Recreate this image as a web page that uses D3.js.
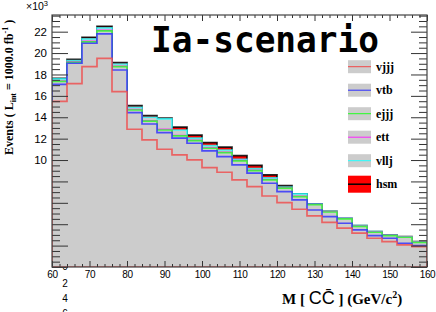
<!DOCTYPE html>
<html>
<head>
<meta charset="utf-8">
<script src="https://cdn.jsdelivr.net/npm/d3@7"></script>
<style>
  body { margin: 0; background: #fff; }
  svg { display: block; font-family: "Liberation Sans", Arial, sans-serif; }
</style>
</head>
<body>
<svg id="chart" width="436" height="312"></svg>
<script>
// bin edges of M(cc) in GeV/c^2
const edges = [60,64,68,72,76,80,84,88,92,96,100,104,108,112,116,120,124,128,132,136,140,144,148,152,156,160];

// events per bin (x10^3), one array per stacked sample
const vjjj = [15.48,17.14,18.73,19.51,16.39,12.88,11.88,11.01,10.48,10.01,9.29,8.86,8.14,7.51,6.64,6.02,5.40,4.78,4.17,3.63,3.16,2.69,2.37,2.07,1.91];
const vtb  = [1.60,1.91,2.19,2.28,2.03,1.55,1.49,1.55,1.56,1.56,1.56,1.46,1.40,1.26,1.19,1.03,0.87,0.55,0.54,0.46,0.31,0.24,0.32,0.15,0.09];
const ejjj = [0.27,0.09,0.12,0.28,0.31,0.25,0.26,0.25,0.21,0.24,0.25,0.37,0.38,0.24,0.31,0.32,0.31,0.49,0.43,0.41,0.33,0.32,0.25,0.56,0.31];
const ett  = [0.04,0.03,0.05,0.05,0.04,0.03,0.04,0.05,0.04,0.03,0.04,0.03,0.03,0.03,0.03,0.02,0.03,0.02,0.02,0.02,0.02,0.02,0.02,0.02,0.02];
const vllj = [0.19,0.13,0.23,0.23,0.21,0.22,0.33,0.99,0.52,0.20,0.21,0.22,0.12,0.16,0.16,0.08,0.22,0.04,0.03,0.03,0.04,0.03,0.03,0.03,0.03];
const hsm  = [0.06,0.12,0.16,0.15,0.12,0.15,0.15,0.06,0.26,0.28,0.28,0.26,0.34,0.31,0.28,0.13,0.02,0.02,0.01,0.01,0.01,0.01,0.01,0.01,0.01];

const sampleNames = ['vjjj','vtb','ejjj','ett','vllj','hsm'];
const sampleColors = ['#f04848','#2b2bff','#22ff22','#ff22ff','#22ffff','#000000'];

const xTickLabels = [60,70,80,90,100,110,120,130,140,150,160];
const yTickLabels = [10,12,14,16,18,20,22];
const strayLabels = [0,2,4,6];   // y labels that ended up below the x axis

const serif = '"Liberation Serif", "Times New Roman", serif';
const sans = '"Liberation Sans", Arial, sans-serif';

const svg = d3.select('#chart');

const x = d3.scaleLinear().domain([60,160]).range([52,427]);
const y = d3.scaleLinear().domain([0,23.56]).range([267,15]);

// stray labels drawn first so the plot covers the top of the "0"
svg.append('g')
    .selectAll('text')
    .data(strayLabels)
    .enter()
    .append('text')
    .attr('x', 65)
    .attr('y', (d,i)=> i ? 268.5 + 15*i : 266)
    .attr('dy', '0.35em')
    .attr('text-anchor', 'middle')
    .style('font-size', '10px')
    .text(d=>d);

// white frame background
svg.append('rect')
    .attr('x', x(60)).attr('y', y(23.56))
    .attr('width', x(160)-x(60)).attr('height', y(0)-y(23.56))
    .attr('fill', '#fff');

svg.append('clipPath').attr('id','plotClip')
    .append('rect')
    .attr('x', x(60)).attr('y', y(23.56))
    .attr('width', x(160)-x(60)).attr('height', y(0)-y(23.56));

// cumulative stack
const series = [vjjj, vtb, ejjj, ett, vllj, hsm];
const cumul = [];
series.forEach((s,k)=>{
    cumul.push(s.map((v,i)=> v + (k ? cumul[k-1][i] : 0)));
});

const stepLine = d3.line()
    .x(d=>x(d[0]))
    .y(d=>y(d[1]))
    .curve(d3.curveStepAfter);

const outline = vals => [[edges[0],0], ...vals.map((v,i)=>[edges[i],v]), [edges[edges.length-1], vals[vals.length-1]], [edges[edges.length-1],0]];

const hist = svg.append('g').attr('clip-path','url(#plotClip)');

// ROOT draws the stack from the top layer down
d3.range(series.length-1, -1, -1).forEach(k=>{
    const isSignal = k === series.length-1;
    hist.append('path')
        .attr('d', stepLine(outline(cumul[k])) + 'Z')
        .attr('fill', isSignal ? '#ff0000' : '#cccccc')
        .attr('stroke', sampleColors[k])
        .attr('stroke-opacity', isSignal ? 0.85 : 0.8)
        .attr('stroke-width', 1.7);
});

// axes
const tickColor = '#333';
const yMajor = d3.range(0, 23, 2);
const yMinor = d3.range(0, 23.6, 0.5).filter(v=>v%2 !== 0);
const xMajor = xTickLabels;
const xMinor = d3.range(60, 161, 2).filter(v=>v%10 !== 0);

function styleAxis(g) {
    g.select('.domain').remove();
    g.selectAll('line').attr('stroke', tickColor).attr('stroke-width', 1);
}

// left
svg.append('g')
    .attr('transform', `translate(${x(60)},0)`)
    .call(d3.axisLeft(y).tickValues(yMajor).tickSize(-16).tickPadding(5)
        .tickFormat(d=>yTickLabels.includes(d) ? d : ''))
    .call(styleAxis)
    .call(g=>g.selectAll('text').attr('fill','#000')
        .style('font-size', '11.5px').style('font-family', sans));
svg.append('g')
    .attr('transform', `translate(${x(60)},0)`)
    .call(d3.axisLeft(y).tickValues(yMinor).tickSize(-8).tickFormat(''))
    .call(styleAxis);

// right
svg.append('g')
    .attr('transform', `translate(${x(160)},0)`)
    .call(d3.axisRight(y).tickValues(yMajor).tickSize(-16).tickFormat(''))
    .call(styleAxis);
svg.append('g')
    .attr('transform', `translate(${x(160)},0)`)
    .call(d3.axisRight(y).tickValues(yMinor).tickSize(-8).tickFormat(''))
    .call(styleAxis);

// bottom
svg.append('g')
    .attr('transform', `translate(0,${y(0)})`)
    .call(d3.axisBottom(x).tickValues(xMajor).tickSize(-6).tickPadding(4).tickFormat(d=>d))
    .call(styleAxis)
    .call(g=>g.selectAll('text').attr('fill','#000')
        .style('font-size', '10px').style('letter-spacing', '-0.4px')
        .style('font-family', sans));
svg.append('g')
    .attr('transform', `translate(0,${y(0)})`)
    .call(d3.axisBottom(x).tickValues(xMinor).tickSize(-3).tickFormat(''))
    .call(styleAxis);

// top
svg.append('g')
    .attr('transform', `translate(0,${y(23.56)})`)
    .call(d3.axisTop(x).tickValues(xMajor).tickSize(-6).tickFormat(''))
    .call(styleAxis);
svg.append('g')
    .attr('transform', `translate(0,${y(23.56)})`)
    .call(d3.axisTop(x).tickValues(xMinor).tickSize(-3).tickFormat(''))
    .call(styleAxis);

// frame
svg.append('rect')
    .attr('x', x(60)).attr('y', y(23.56))
    .attr('width', x(160)-x(60)).attr('height', y(0)-y(23.56))
    .attr('fill', 'none')
    .attr('stroke', '#444')
    .attr('stroke-width', 1.2);

// x10^3 exponent
const expo = svg.append('text')
    .attr('x', 26).attr('y', 10)
    .style('font-size', '10.5px');
expo.append('tspan').text('\u00d710');
expo.append('tspan').attr('dy', -4).style('font-size', '7.5px').text('3');

// title
svg.append('text')
    .attr('x', 151).attr('y', 52)
    .style('font-family', '"DejaVu Sans Mono", monospace')
    .style('font-weight', 'bold')
    .style('font-size', '36px')
    .attr('textLength', 228)
    .attr('lengthAdjust', 'spacingAndGlyphs')
    .text('Ia-scenario');

// y axis title
const yt = svg.append('text')
    .attr('transform', 'translate(13,155) rotate(-90)')
    .style('font-family', serif)
    .style('font-weight', 'bold')
    .style('font-size', '12px');
yt.append('tspan').text('Events ( L');
yt.append('tspan').attr('dy', 3).style('font-size', '8px').text('int');
yt.append('tspan').attr('dy', -3).text(' = 1000.0 fb');
yt.append('tspan').attr('dy', -5).style('font-size', '8px').text('-1');
yt.append('tspan').attr('dy', 5).text(' )');

// x axis title
const xt = svg.append('text')
    .attr('x', 282).attr('y', 304)
    .style('font-family', serif)
    .style('font-weight', 'bold')
    .style('font-size', '15px');
xt.append('tspan').text('M [ ');
xt.append('tspan').style('font-family', sans)
    .style('font-weight', 'normal').style('font-size', '18px').text('CC\u0304');
xt.append('tspan').text(' ] (GeV/c');
xt.append('tspan').attr('dy', -6).style('font-size', '10px').text('2');
xt.append('tspan').attr('dy', 6).text(')');

// legend
const legend = svg.append('g');
const entries = legend.selectAll('g')
    .data(sampleNames)
    .enter()
    .append('g')
    .attr('transform', (d,i)=>`translate(348,${66.7 + 23.5*i})`);

entries.append('rect')
    .attr('x', 0)
    .attr('y', (d,i)=> i === 5 ? -8.5 : -6.5)
    .attr('width', 23)
    .attr('height', (d,i)=> i === 5 ? 17 : 13)
    .attr('fill', (d,i)=> i === 5 ? '#ff0000' : '#cccccc');

entries.append('line')
    .attr('x1', 0).attr('x2', 23)
    .attr('y1', 0).attr('y2', 0)
    .attr('stroke', (d,i)=>sampleColors[i])
    .attr('stroke-width', (d,i)=> i === 5 ? 1.5 : 1);

entries.append('text')
    .attr('x', 28)
    .attr('y', 0)
    .attr('dy', '0.32em')
    .style('font-family', serif)
    .style('font-weight', 'bold')
    .style('font-size', '12px')
    .text(d=>d);
</script>
</body>
</html>
